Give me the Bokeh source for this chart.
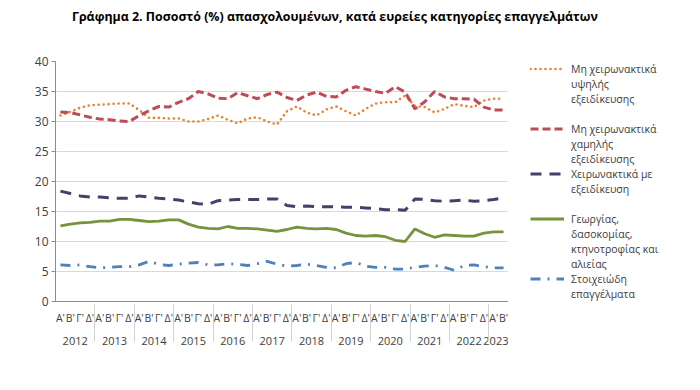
from bokeh.plotting import figure
from bokeh.models import (FactorRange, Range1d, FixedTicker, Legend, LegendItem,
                          ColumnDataSource, Div)
from bokeh.layouts import row, column
from bokeh.embed import file_html
from bokeh.resources import INLINE

years = ["2012", "2013", "2014", "2015", "2016", "2017", "2018", "2019",
         "2020", "2021", "2022", "2023"]
quarters = ["Α'", "Β'", "Γ'", "Δ'"]
n_points = 46
factors = [(y, q) for y in years for q in quarters][:n_points]

y_ticks = [0, 5, 10, 15, 20, 25, 30, 35, 40]

high_skill = [31.0, 31.6, 32.3, 32.7, 32.8, 32.9, 33.0, 33.0, 31.9, 30.6,
              30.6, 30.5, 30.5, 30.0, 30.0, 30.4, 31.0, 30.3, 29.7, 30.5,
              30.7, 30.0, 29.5, 31.7, 32.5, 31.5, 31.0, 32.0, 32.5, 31.7,
              31.0, 32.1, 33.0, 33.2, 33.2, 34.3, 32.6, 32.4, 31.5, 32.1,
              32.9, 32.6, 32.4, 33.5, 33.8, 33.8]
low_skill = [31.6, 31.5, 31.1, 30.7, 30.4, 30.3, 30.1, 30.0, 31.0, 31.8,
             32.5, 32.4, 33.2, 33.8, 35.0, 34.6, 33.9, 33.8, 34.8, 34.3,
             33.8, 34.5, 34.9, 34.0, 33.5, 34.4, 34.9, 34.2, 34.1, 35.2,
             35.8, 35.4, 35.0, 34.7, 35.8, 34.9, 32.1, 33.3, 35.0, 34.1,
             33.8, 33.8, 33.7, 32.4, 31.9, 31.9]
manual_skilled = [18.4, 18.0, 17.6, 17.4, 17.4, 17.3, 17.2, 17.2, 17.6, 17.4,
                  17.2, 17.1, 16.9, 16.6, 16.3, 16.2, 16.8, 16.9, 17.0, 17.0,
                  17.0, 17.1, 17.1, 16.0, 15.8, 15.9, 15.8, 15.8, 15.8, 15.7,
                  15.7, 15.6, 15.5, 15.3, 15.3, 15.2, 17.1, 17.0, 16.8, 16.7,
                  16.8, 16.9, 16.7, 16.8, 17.0, 17.3]
agriculture = [12.6, 12.9, 13.1, 13.2, 13.4, 13.4, 13.7, 13.7, 13.5, 13.3,
               13.4, 13.6, 13.6, 12.9, 12.4, 12.2, 12.1, 12.5, 12.2, 12.2,
               12.1, 11.9, 11.7, 12.0, 12.4, 12.2, 12.1, 12.2, 12.0, 11.4,
               11.0, 10.9, 11.0, 10.8, 10.2, 10.0, 12.1, 11.3, 10.7, 11.1,
               11.0, 10.9, 10.9, 11.4, 11.6, 11.6]
elementary = [6.1, 6.0, 6.1, 5.8, 5.6, 5.7, 5.8, 5.8, 6.1, 6.7,
              6.2, 6.0, 6.2, 6.4, 6.5, 6.1, 6.1, 6.3, 6.2, 6.0,
              6.3, 6.7, 6.2, 5.9, 6.0, 6.2, 6.0, 5.7, 5.6, 6.3,
              6.5, 5.9, 5.7, 5.7, 5.4, 5.4, 5.7, 5.9, 6.0, 5.7,
              5.2, 6.0, 6.1, 5.8, 5.6, 5.6]

# legend label lines, one list per series
label_lines = [["Μη χειρωνακτικά", "υψηλής", "εξειδίκευσης"],
               ["Μη χειρωνακτικά", "χαμηλής", "εξειδίκευσης"],
               ["Χειρωνακτικά με", "εξειδίκευση"],
               ["Γεωργίας,", "δασοκομίας,", "κτηνοτροφίας και", "αλιείας"],
               ["Στοιχειώδη", "επαγγέλματα"]]
gap_after = [1, 0, 1, 0, 0]

title_text = "Γράφημα 2. Ποσοστό (%) απασχολουμένων, κατά ευρείες κατηγορίες επαγγελμάτων"

FONT = "Open Sans"
TXT = "#404040"

# series styles: (column, colour, width, dash)
styles = [("high", "#E9822E", 2.6, "0 5"),
          ("low", "#BE4B55", 3, "8 4"),
          ("manual", "#4B3D6A", 3, "11 8"),
          ("agri", "#77933C", 2.8, "solid"),
          ("elem", "#4F81BD", 2.8, "10 7 2 7")]

src = ColumnDataSource(dict(x=factors, high=high_skill, low=low_skill,
                            manual=manual_skilled, agri=agriculture, elem=elementary))

TOP = 30
H = 358
BORDER_TOP = 31
BORDER_BOTTOM = 87

p = figure(width=508, height=H, output_backend="svg", toolbar_location=None,
           x_range=FactorRange(*factors, factor_padding=0, group_padding=0,
                               subgroup_padding=0, range_padding=0),
           y_range=Range1d(0, 40),
           min_border_left=55, min_border_right=0,
           min_border_bottom=BORDER_BOTTOM, min_border_top=BORDER_TOP)
p.outline_line_color = None
p.background_fill_color = "white"

for col, color, w, dash in styles:
    p.line("x", col, source=src, color=color, line_width=w, line_dash=dash,
           line_cap="round" if col == "high" else "butt")

# axes
p.yaxis.ticker = FixedTicker(ticks=y_ticks)
p.yaxis.major_label_text_font = FONT
p.yaxis.major_label_text_font_size = "12px"
p.yaxis.major_label_text_color = TXT
p.yaxis.axis_line_color = "#8C8C8C"
p.yaxis.major_tick_line_color = "#8C8C8C"
p.yaxis.major_tick_out = 4
p.yaxis.major_tick_in = 0
p.yaxis.minor_tick_line_color = None
p.yaxis.major_label_standoff = 3

p.xaxis.axis_line_color = "#8C8C8C"
p.xaxis.major_tick_line_color = None
p.xaxis.major_tick_out = 0
p.xaxis.major_tick_in = 0
p.xaxis.minor_tick_line_color = None
p.xaxis.major_label_text_font = FONT
p.xaxis.major_label_text_font_size = "10.5px"
p.xaxis.major_label_text_color = TXT
p.xaxis.major_label_standoff = 9
p.xaxis.group_text_font = FONT
p.xaxis.group_text_font_size = "11px"
p.xaxis.group_text_color = TXT
p.xaxis.group_text_font_style = "normal"
p.xaxis.separator_line_color = "#D0D0D0"
p.xaxis.separator_line_width = 1

p.xgrid.grid_line_color = None
p.ygrid.grid_line_color = "#D9D9D9"
p.ygrid.grid_line_width = 1

# legend panel (its frame lines up with the chart frame)
lg = figure(width=700 - 508, height=H, output_backend="svg", toolbar_location=None,
            x_range=Range1d(0, 1), y_range=Range1d(0, 1),
            x_axis_type=None, y_axis_type=None,
            min_border_left=22, min_border_right=0,
            min_border_top=BORDER_TOP, min_border_bottom=BORDER_BOTTOM)
lg.outline_line_color = None
lg.xgrid.visible = False
lg.ygrid.visible = False

nan = float("nan")
items = []
for (col, color, w, dash), lines, gap in zip(styles, label_lines, gap_after):
    proxy = lg.line(x=[nan], y=[nan], color=color, line_width=w, line_dash=dash,
                    line_cap="round" if col == "high" else "butt")
    items.append(LegendItem(label=lines[0], renderers=[proxy]))
    for extra in lines[1:]:
        items.append(LegendItem(label=extra, renderers=[]))
    for _ in range(gap):
        items.append(LegendItem(label=" ", renderers=[]))

legend = Legend(items=items, location="top_left")
legend.border_line_color = None
legend.background_fill_alpha = 0
legend.padding = 0
legend.margin = 0
legend.spacing = 0
legend.glyph_width = 34
legend.glyph_height = 15
legend.label_standoff = 7
legend.label_height = 15
legend.label_text_font = FONT
legend.label_text_font_size = "10.5px"
legend.label_text_color = TXT
lg.add_layout(legend, "center")

title = Div(text=title_text, width=700, height=TOP, margin=0,
            styles={"font-family": FONT, "font-weight": "bold",
                    "font-size": "12.4px", "color": "#000000",
                    "padding-left": "72px", "padding-top": "8px",
                    "line-height": "18px", "white-space": "nowrap"})

layout = column(title, row(p, lg, spacing=0), spacing=0)

open("out.html", "w").write(file_html(layout, INLINE))
